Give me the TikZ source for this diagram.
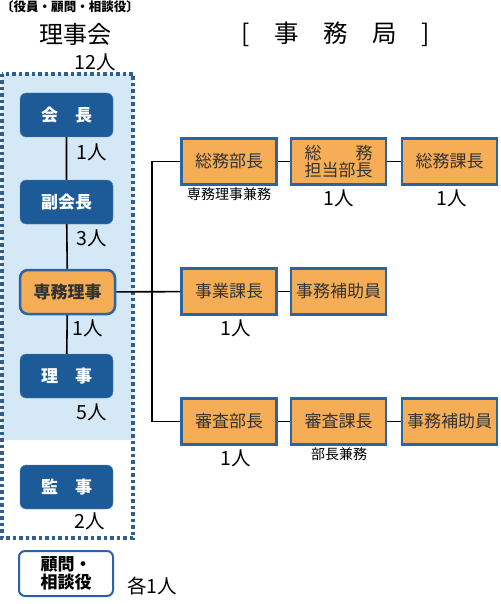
\documentclass[tikz,border=0pt]{standalone}
\usepackage{fontspec}
\setmainfont{Noto Sans CJK JP}
\definecolor{koncolor}{HTML}{1C5A98}
\definecolor{wakucolor}{HTML}{2B63A5}
\definecolor{daidai}{HTML}{F5AD56}
\definecolor{mizuiro}{HTML}{D4E9F5}
\definecolor{tenkei}{HTML}{2F5F8A}
\definecolor{sumi}{HTML}{333333}
\newcommand{\fs}[1]{\fontsize{#1}{#1}\selectfont}

\begin{document}
\begin{tikzpicture}[x=1pt,y=-1pt,
    yakuin/.style={fill=koncolor, draw=koncolor!70!white, rounded corners=6pt,
      minimum width=93pt, minimum height=44pt, text=white, font=\bfseries\fs{17}},
    jimu/.style={fill=daidai, draw=wakucolor, line width=2.5pt,
      minimum width=95pt, minimum height=46pt, text=sumi, font=\fs{17}, align=center,
      inner sep=1pt},
    ninzu/.style={font=\fs{19.5}},
    chu/.style={font=\fs{14}},
    sen/.style={line width=1.6pt}]
\useasboundingbox (0,0) rectangle (500,604);

% 理事会の枠
\fill[mizuiro] (2,74) rectangle (133,440);
\draw[tenkei, line width=3.5pt, dash pattern=on 3.5pt off 3pt] (2,74) rectangle (133,538);

\node[font=\bfseries\fs{12.5}] (shita) at (70,7) {〔役員・顧問・相談役〕};
\node[font=\fs{24}] (rijikai) at (75,34) {理事会};
\node[ninzu] (rijikainin) at (95,62) {12人};
\node[font=\fs{24.5}] (jimukyoku) at (336,34) {[\hspace{1em}事\hspace{1em}務\hspace{1em}局\hspace{1em}]};

% 役員
\node[yakuin] (kaicho) at (66.5,115) {会　長};
\node[yakuin] (fukukaicho) at (66.5,202) {副会長};
\node[yakuin, fill=daidai, draw=wakucolor, line width=2.5pt, rounded corners=8pt,
  minimum width=95pt, text=sumi] (senmu) at (67.5,292) {専務理事};
\node[yakuin] (riji) at (66.5,376) {理　事};
\node[yakuin] (kanji) at (66.5,487) {監　事};
\node[yakuin, fill=white, draw=wakucolor, line width=2pt, text=black, align=left,
  minimum width=94pt, minimum height=45pt] (komon) at (66,573.5)
  {顧問・\\[1pt]相談役};

\draw[sen] (kaicho) -- (fukukaicho) -- (senmu) -- (riji);

\node[ninzu] (kaichonin) at (92,152) {1人};
\node[ninzu] (fukunin) at (92,238) {3人};
\node[ninzu] (senmunin) at (88,328) {1人};
\node[ninzu] (rijinin) at (92,412) {5人};
\node[ninzu] (kanjinin) at (90,521) {2人};
\node[ninzu] (komonnin) at (152,586) {各1人};

% 事務局
\node[jimu] (somubucho) at (229,161.5) {総務部長};
\node[jimu] (somutanto) at (338.5,161.5) {\makebox[4em]{総\hfill 務}\\担当部長};
\node[jimu] (somukacho) at (449.5,161.5) {総務課長};
\node[jimu] (jigyo) at (229,291.5) {事業課長};
\node[jimu] (hojoa) at (338.5,291.5) {事務補助員};
\node[jimu] (shinsabucho) at (229,421.5) {審査部長};
\node[jimu] (shinsakacho) at (338.5,421.5) {審査課長};
\node[jimu] (hojob) at (449.5,421.5) {事務補助員};

\coordinate (eda) at (152,291.5);
\draw[sen] (senmu) -- (jigyo);
\draw[sen] (somubucho.west) -| (eda) |- (shinsabucho.west);
\draw[sen] (somubucho) -- (somutanto) -- (somukacho);
\draw[sen] (jigyo) -- (hojoa);
\draw[sen] (shinsabucho) -- (shinsakacho) -- (hojob);

\node[chu] (kenmua) at (229,194) {専務理事兼務};
\node[ninzu] (tantonin) at (339,198) {1人};
\node[ninzu] (kachonin) at (452,198) {1人};
\node[ninzu] (jigyonin) at (236,328) {1人};
\node[ninzu] (shinsanin) at (236,458) {1人};
\node[chu] (kenmub) at (339,454) {部長兼務};
\end{tikzpicture}
\end{document}
